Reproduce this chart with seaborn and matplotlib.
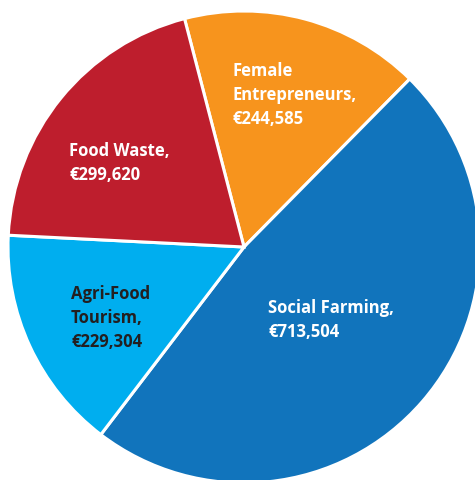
import matplotlib
matplotlib.use("Agg")
import matplotlib.pyplot as plt
import seaborn as sns

# Funding by programme strand (EUR)
categories = ["Female Entrepreneurs", "Social Farming", "Agri-Food Tourism", "Food Waste"]
values = [244585, 713504, 229304, 299620]
colors = ["#F7941D", "#1174BC", "#00AEEF", "#BE1E2D"]
text_colors = ["white", "white", "#231F20", "white"]
label_lines = [
    "Female\nEntrepreneurs,",
    "Social Farming,",
    "Agri-Food\nTourism,",
    "Food Waste,",
]

sns.set_theme(style="white")
plt.rcParams["font.family"] = ["Open Sans", "DejaVu Sans"]

W, H, DPI = 475, 480, 100
fig = plt.figure(figsize=(W / DPI, H / DPI), dpi=DPI)
ax = fig.add_axes([0, 0, 1, 1])

wedges, _ = ax.pie(
    values,
    colors=sns.color_palette(colors),
    startangle=104.6,
    counterclock=False,
    wedgeprops=dict(edgecolor="white", linewidth=2.2),
)

# pixel geometry of the pie: centre and radius
cx, cy, r = 244.0, 247.0, 236.0
ax.set_xlim((0 - cx) / r, (W - cx) / r)
ax.set_ylim((cy - H) / r, cy / r)
ax.set_aspect("auto")
ax.axis("off")

# left edge / vertical centre of each label block, in pixels
label_pos = [(232, 95), (268, 320), (71, 318), (69, 163)]

for lines, val, (px, py), tc in zip(label_lines, values, label_pos, text_colors):
    text = f"{lines}\n€{val:,}"
    ax.text(
        (px - cx) / r,
        (cy - py) / r,
        text,
        ha="left",
        va="center",
        color=tc,
        fontsize=12,
        fontweight="bold",
        linespacing=1.4,
    )

fig.savefig("out.png", dpi=DPI)
